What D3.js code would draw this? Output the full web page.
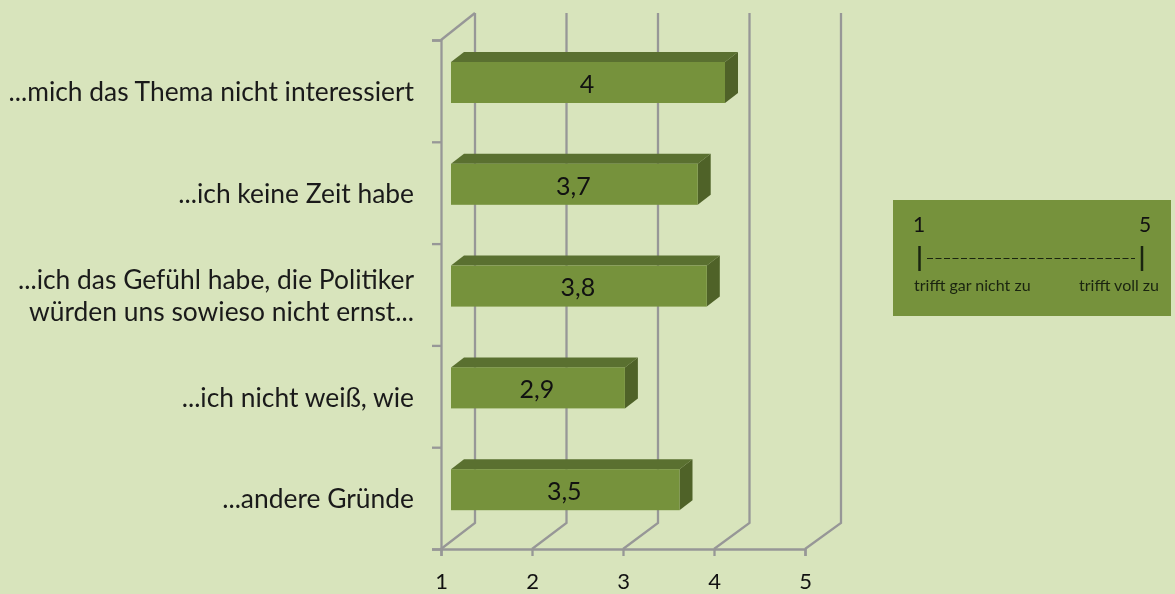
<!DOCTYPE html>
<html lang="de">
    <head>
        <meta charset="utf-8"/>
        <script src="https://d3js.org/d3.v7.min.js"></script>
        <style>
            html, body { margin: 0; padding: 0; background: #d8e4bc; overflow: hidden; }
            svg { display: block; font-family: Lato, "Open Sans", sans-serif; filter: blur(0.6px); }
        </style>
    </head>
    <body>
        <main>
            <div id="chart"></div>
        </main>
    </body>
    <script>
        var categories = [
            ["...mich das Thema nicht interessiert"],
            ["...ich keine Zeit habe"],
            ["...ich das Gefühl habe, die Politiker", "würden uns sowieso nicht ernst..."],
            ["...ich nicht weiß, wie"],
            ["...andere Gründe"]
        ];
        var values = [4, 3.7, 3.8, 2.9, 3.5];
        var valueLabels = ["4", "3,7", "3,8", "2,9", "3,5"];
        var xTicks = [1, 2, 3, 4, 5];
        var scaleLeft = "1";
        var scaleRight = "5";
        var scaleLeftText = "trifft gar nicht zu";
        var scaleRightText = "trifft voll zu";

        var width = 1175, height = 594;
        var gridColor = "#979797";
        var barDepth = {x: 13, y: -10};    // bar's own depth

        var svg = d3.select("#chart")
            .append("svg")
                .attr("width", width)
                .attr("height", height);

        svg.append("rect")
            .attr("width", width)
            .attr("height", height)
            .attr("fill", "#d8e4bc");

        var x = d3.scaleLinear()
            .domain([1, 5])
            .range([441, 805]);

        // back wall of the 3d box is a bit wider than the front edge
        var xBack = d3.scaleLinear()
            .domain([1, 5])
            .range([475, 841]);

        var y = d3.scaleBand()
            .domain(d3.range(categories.length))
            .range([40, 549]);

        var edge = d3.scaleLinear()
            .domain([0, categories.length])
            .range([40, 549]);

        // back wall gridlines and the floor diagonals
        var grid = svg.append("g")
            .attr("fill", "none")
            .attr("stroke", gridColor)
            .attr("stroke-width", 2.3);

        grid.selectAll("path.wall")
            .data(xTicks)
            .enter()
            .append("path")
                .attr("class", "wall")
                .attr("d", function (d) {
                    return "M" + x(d) + ",549"
                        + "L" + xBack(d) + ",523"
                        + "L" + xBack(d) + ",13";
                });

        grid.append("path")
            .attr("d", "M" + x(1) + ",40L" + xBack(1) + ",13");

        // x axis
        var xAxis = svg.append("g")
            .attr("transform", "translate(0,549)")
            .call(d3.axisBottom(x).tickValues(xTicks).tickSize(7).tickPadding(17).tickFormat(d3.format("d")));
        xAxis.select(".domain").attr("stroke", gridColor).attr("stroke-width", 2.3);
        xAxis.selectAll("line").attr("stroke", gridColor).attr("stroke-width", 2.3);
        xAxis.selectAll("text")
            .attr("font-size", 22)
            .attr("font-family", "Lato")
            .attr("fill", "#111");

        // category axis, ticks sit on the band edges
        var yAxis = svg.append("g")
            .attr("transform", "translate(" + x(1) + ",0)")
            .call(d3.axisLeft(edge).ticks(categories.length).tickSize(9).tickFormat(""));
        yAxis.select(".domain").attr("stroke", gridColor).attr("stroke-width", 2.3);
        yAxis.selectAll("line").attr("stroke", gridColor).attr("stroke-width", 2.3);

        // bars: front is pushed right of the axis, inside the box depth
        var barLeft = x(1) + 10, barTop = 22, barH = 41;
        function barRight(d) { return x(d) + 11; }

        var bars = svg.selectAll("g.bar")
            .data(values)
            .enter()
            .append("g")
                .attr("class", "bar");

        bars.append("path")
            .attr("fill", "#5a7030")
            .attr("d", function (d, i) {
                var r = barRight(d), t = y(i) + barTop;
                return "M" + barLeft + "," + t + "L" + (barLeft + barDepth.x) + "," + (t + barDepth.y)
                    + "L" + (r + barDepth.x) + "," + (t + barDepth.y) + "L" + r + "," + t + "Z";
            });

        bars.append("path")
            .attr("fill", "#4f6228")
            .attr("d", function (d, i) {
                var r = barRight(d), t = y(i) + barTop;
                return "M" + r + "," + t + "L" + (r + barDepth.x) + "," + (t + barDepth.y)
                    + "L" + (r + barDepth.x) + "," + (t + barDepth.y + barH) + "L" + r + "," + (t + barH) + "Z";
            });

        bars.append("rect")
            .attr("x", barLeft)
            .attr("y", function (d, i) { return y(i) + barTop; })
            .attr("width", function (d) { return barRight(d) - barLeft; })
            .attr("height", barH)
            .attr("fill", "#76923c");

        bars.append("text")
            .attr("x", function (d) { return (barLeft + barRight(d)) / 2 - 1; })
            .attr("y", function (d, i) { return y(i) + barTop + 22; })
            .attr("dy", "0.35em")
            .attr("text-anchor", "middle")
            .attr("font-size", 25)
            .attr("fill", "#111")
            .text(function (d, i) { return valueLabels[i]; });

        // category labels
        var labels = svg.selectAll("text.cat")
            .data(categories)
            .enter()
            .append("text")
                .attr("class", "cat")
                .attr("text-anchor", "end")
                .attr("font-size", 26.4)
                .attr("fill", "#1a1a1a");

        labels.selectAll("tspan")
            .data(function (d, i) {
                return d.map(function (line, k) {
                    return {line: line, yPos: y(i) + barTop + 30 + (k - (d.length - 1) / 2) * 32};
                });
            })
            .enter()
            .append("tspan")
                .attr("x", 414)
                .attr("y", function (d) { return d.yPos; })
                .attr("dy", "0.35em")
                .text(function (d) { return d.line; });

        // scale legend box
        var legend = svg.append("g");

        legend.append("rect")
            .attr("x", 893)
            .attr("y", 200)
            .attr("width", 278)
            .attr("height", 116)
            .attr("fill", "#76923c");

        legend.append("text").attr("x", 919).attr("y", 232).attr("text-anchor", "middle")
            .attr("font-size", 21).attr("fill", "#111").text(scaleLeft);
        legend.append("text").attr("x", 1145).attr("y", 232).attr("text-anchor", "middle")
            .attr("font-size", 21).attr("fill", "#111").text(scaleRight);

        legend.selectAll("line.end")
            .data([919.5, 1142])
            .enter()
            .append("line")
                .attr("class", "end")
                .attr("x1", function (d) { return d; })
                .attr("x2", function (d) { return d; })
                .attr("y1", 246)
                .attr("y2", 271)
                .attr("stroke", "#1a2410")
                .attr("stroke-width", 2.5);

        legend.append("line")
            .attr("x1", 927).attr("x2", 1135)
            .attr("y1", 258.5).attr("y2", 258.5)
            .attr("stroke", "#1a2410")
            .attr("stroke-width", 1.2)
            .attr("stroke-dasharray", "6 2.5");

        legend.append("text").attr("x", 914).attr("y", 291)
            .attr("font-size", 16).attr("fill", "#1a2410").text(scaleLeftText);
        legend.append("text").attr("x", 1079).attr("y", 291)
            .attr("font-size", 16).attr("fill", "#1a2410").text(scaleRightText);
    </script>
</html>
